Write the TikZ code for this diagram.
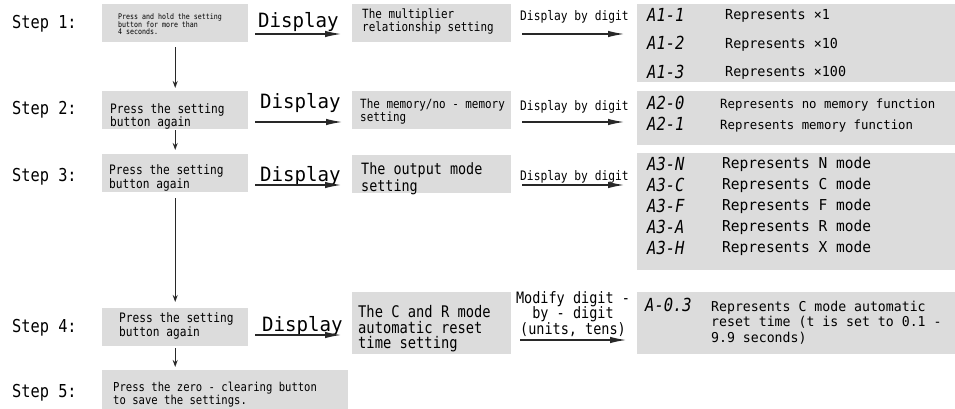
\documentclass[tikz,border=0pt]{standalone}
\usepackage{fontspec}
\usetikzlibrary{arrows.meta,calc}
\newfontfamily\fnarrow[FakeStretch=0.86]{DejaVu Sans Mono}
\newfontfamily\fwide[FakeStretch=0.97]{DejaVu Sans Mono}
\newcommand\nf[2]{\fnarrow\fontsize{#1}{#2}\selectfont}
\newcommand\wf[2]{\fwide\fontsize{#1}{#2}\selectfont}
\definecolor{boxgray}{RGB}{220,220,220}
\definecolor{ink}{RGB}{40,40,40}
\begin{document}
% multi-line texts are placed by the baseline of their last line
\begin{tikzpicture}[x=1pt,y=-1pt,
  gbox/.style={fill=boxgray, inner sep=0pt, anchor=north west},
  txt/.style={inner sep=0pt, anchor=base west, align=left},
  code/.style={txt, font=\nf{18}{20}\itshape},
  harrow/.style={draw=ink, line width=1.8pt, -{Latex[length=17pt,width=6.5pt]}},
  varrow/.style={draw=ink, line width=1.3pt, -{Stealth[length=7pt,width=5pt]}}]
\useasboundingbox (0,0) rectangle (955,409);

% left column: the operator's actions
\node[gbox, minimum width=146pt, minimum height=38pt] (p1) at (102,4) {};
\node[gbox, minimum width=146pt, minimum height=38pt] (p2) at (102,91) {};
\node[gbox, minimum width=146pt, minimum height=38pt] (p3) at (102,154) {};
\node[gbox, minimum width=146pt, minimum height=38pt] (p4) at (102,308) {};
\node[gbox, minimum width=246pt, minimum height=40pt] (p5) at (102,370) {};

\node[txt, font=\nf{17.8}{20}] (l1) at (12,28.3) {Step 1:};
\node[txt, font=\nf{17.8}{20}] (l2) at (12,115) {Step 2:};
\node[txt, font=\nf{17.8}{20}] (l3) at (12,181) {Step 3:};
\node[txt, font=\nf{17.8}{20}] (l4) at (12,332) {Step 4:};
\node[txt, font=\nf{17.8}{20}] (l5) at (12,397) {Step 5:};

\node[txt, font=\nf{7.7}{7.7}] (t1) at (118,35) {Press and hold the setting\\button for more than\\4 seconds.};
\node[txt, font=\nf{13}{11}] (t2) at (110,127) {Press the setting\\button again};
\node[txt, font=\nf{13}{11}] (t3) at (109,188.5) {Press the setting\\button again};
\node[txt, font=\nf{13}{10}] (t4) at (119,336) {Press the setting\\button again};
\node[txt, font=\nf{12.3}{9.5}] (t5) at (113,404) {Press the zero - clearing button\\to save the settings.};

% "Display" labels
\node[txt, font=\wf{19.7}{20}] (d1) at (258,27.3) {Display};
\node[txt, font=\wf{19.7}{20}] (d2) at (260,109) {Display};
\node[txt, font=\wf{19.7}{20}] (d3) at (260,181) {Display};
\node[txt, font=\wf{19.7}{20}] (d4) at (262,331) {Display};

% middle column: the setting shown
\node[gbox, minimum width=159pt, minimum height=38pt] (m1) at (352,4) {};
\node[gbox, minimum width=159pt, minimum height=38pt] (m2) at (352,91) {};
\node[gbox, minimum width=159pt, minimum height=38pt] (m3) at (352,155) {};
\node[gbox, minimum width=159pt, minimum height=62pt] (m4) at (352,292) {};

\node[txt, font=\nf{12.7}{13.5}] (n1) at (362,32) {The multiplier\\relationship setting};
\node[txt, font=\nf{12.7}{12}] (n2) at (360,121.3) {The memory/no - memory\\setting};
\node[txt, font=\nf{15.6}{14.5}] (n3) at (361,191) {The output mode\\setting};
\node[txt, font=\nf{16}{15.5}] (n4) at (358,348.5) {The C and R mode\\automatic reset\\time setting};

% arrow labels towards the right column
\node[txt, font=\nf{13.1}{14}] (e1) at (520,20.5) {Display by digit};
\node[txt, font=\nf{13.1}{14}] (e2) at (520,111) {Display by digit};
\node[txt, font=\nf{13.1}{14}] (e3) at (520,180) {Display by digit};
\node[inner sep=0pt, anchor=base, align=center, font=\nf{15.7}{15.5}] (e4) at (573,334) {Modify digit -\\by - digit\\(units, tens)};

% right column: the codes and their meaning
\node[gbox, minimum width=318pt, minimum height=78pt] (r1) at (637,4) {};
\node[gbox, minimum width=318pt, minimum height=54pt] (r2) at (637,91) {};
\node[gbox, minimum width=318pt, minimum height=117pt] (r3) at (637,153) {};
\node[gbox, minimum width=318pt, minimum height=62pt] (r4) at (637,292) {};

\node[code, font=\nf{18}{28.5}\itshape] (c1) at (647,78.5) {A1-1\\A1-2\\A1-3};
\node[txt, font=\wf{13.8}{28.5}] (k1) at (725,77) {Represents ×1\\Represents ×10\\Represents ×100};

\node[code, font=\nf{18}{21}\itshape] (c2) at (647,131) {A2-0\\A2-1};
\node[txt, font=\wf{12.7}{21}] (k2) at (720,130) {Represents no memory function\\Represents memory function};

\node[code, font=\nf{18}{21}\itshape] (c3) at (647,254) {A3-N\\A3-C\\A3-F\\A3-A\\A3-H};
\node[txt, font=\wf{15}{21}] (k3) at (722,252.5) {Represents N mode\\Represents C mode\\Represents F mode\\Represents R mode\\Represents X mode};

\node[code] (c4) at (645,311) {A-0.3};
\node[txt, font=\wf{13.6}{15.5}] (k4) at (711,342) {Represents C mode automatic\\reset time (t is set to 0.1 -\\9.9 seconds)};

% connectors
\draw[harrow] ($(p1.north east)+(7,30)$) -- ($(m1.north west)+(-10,30)$);
\draw[harrow] ($(p2.north east)+(7,31)$) -- ($(m2.north west)+(-9,31)$);
\draw[harrow] ($(p3.north east)+(7,31)$) -- ($(m3.north west)+(-10,30)$);
\draw[harrow] ($(p4.north east)+(7,27)$) -- ($(m4.north west)+(-10,43)$);

\draw[harrow] ($(m1.north east)+(11,30)$) -- ($(r1.north west)+(-12,30)$);
\draw[harrow] ($(m2.north east)+(11,31)$) -- ($(r2.north west)+(-12,31)$);
\draw[harrow] ($(m3.north east)+(11,30)$) -- ($(r3.north west)+(-12,32)$);
\draw[harrow] ($(m4.north east)+(9,48)$) -- ($(r4.north west)+(-10,48)$);

\draw[varrow] ($(p1.south)+(0,5)$) -- ($(p2.north)+(0,-3)$);
\draw[varrow] ($(p2.south)+(0,1)$) -- ($(p3.north)+(0,-4)$);
\draw[varrow] ($(p3.south)+(0,6)$) -- ($(p4.north)+(0,-6)$);
\draw[varrow] ($(p4.south)+(0,2)$) -- ($(p4.south |- p5.north)+(0,-3)$);
\end{tikzpicture}
\end{document}
